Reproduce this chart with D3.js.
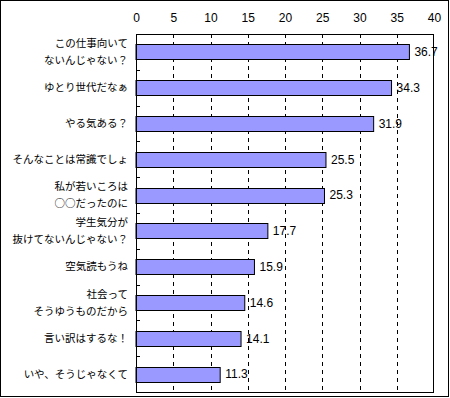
<!DOCTYPE html>
<html><head><meta charset="utf-8">
<script src="https://cdn.jsdelivr.net/npm/d3@7"></script>
<style>
body{margin:0;background:#fff;}
text{fill:#000;}
.num{font-family:"Liberation Sans",Arial,sans-serif;font-size:12px;}
.cat{font-family:"Noto Sans CJK JP","Noto Sans",sans-serif;font-size:10.5px;}
</style></head>
<body><svg id="c" width="450" height="398"></svg>
<script>
const categories = [
  ["この仕事向いて","ないんじゃない？"],
  ["ゆとり世代だなぁ"],
  ["やる気ある？"],
  ["そんなことは常識でしょ"],
  ["私が若いころは","○○だったのに"],
  ["学生気分が","抜けてないんじゃない？"],
  ["空気読もうね"],
  ["社会って","そうゆうものだから"],
  ["言い訳はするな！"],
  ["いや、そうじゃなくて"]
];
const values = [36.7, 34.3, 31.9, 25.5, 25.3, 17.7, 15.9, 14.6, 14.1, 11.3];
const tickValues = [0,5,10,15,20,25,30,35,40];

const svg = d3.select("#c");
const L=136, R=434, T=34, B=392;
svg.append("rect").attr("x",0.5).attr("y",0.5).attr("width",448).attr("height",396)
  .attr("fill","#fff").attr("stroke","#000");

const x = d3.scaleLinear().domain([0,40]).range([L,R]);
const y = d3.scaleBand().domain(d3.range(values.length)).range([T,B]).paddingInner(0.58).paddingOuter(0.29);
const band = d3.scaleBand().domain(d3.range(values.length)).range([T,B]);

// gridlines
svg.append("g").selectAll("line").data(tickValues.filter(v=>v>0&&v<40)).join("line")
  .attr("x1",d=>Math.round(x(d))+0.5).attr("x2",d=>Math.round(x(d))+0.5)
  .attr("y1",T).attr("y2",B).attr("stroke","#000").attr("stroke-dasharray","4,4");

// top axis labels
const ax = d3.axisTop(x).tickValues(tickValues).tickSize(0).tickPadding(0);
const g = svg.append("g").attr("transform",`translate(0,22)`).call(ax);
g.select(".domain").remove();
g.attr("font-size",null).attr("font-family",null);
g.selectAll("text").attr("class","num").attr("fill","#000");

// bars
svg.append("g").selectAll("rect").data(values).join("rect")
  .attr("x",x(0)).attr("y",(d,i)=>Math.round(y(i))+0.5)
  .attr("width",d=>x(d)-x(0)).attr("height",Math.round(y.bandwidth()))
  .attr("fill","#9999ff").attr("stroke","#000");

// value labels
svg.append("g").selectAll("text").data(values).join("text").attr("class","num")
  .attr("x",d=>x(d)+5).attr("y",(d,i)=>band(i)+band.bandwidth()/2)
  .attr("dy","0.35em").text(d=>d.toFixed(1));

// left ticks
svg.append("g").selectAll("line").data(d3.range(1,values.length)).join("line")
  .attr("x1",L).attr("x2",L+4).attr("y1",i=>Math.round(band(i))+0.5).attr("y2",i=>Math.round(band(i))+0.5)
  .attr("stroke","#000");

// frame
svg.append("rect").attr("x",L+0.5).attr("y",T+0.5).attr("width",R-L-1).attr("height",B-T)
  .attr("fill","none").attr("stroke","#000");

// category labels
const cg = svg.append("g");
categories.forEach((lines,i)=>{
  const cy = band(i)+band.bandwidth()/2;
  const t = cg.append("text").attr("class","cat").attr("text-anchor","end").attr("x",128);
  lines.forEach((s,k)=>{
    const off = (k-(lines.length-1)/2)*17;
    t.append("tspan").attr("x",128).attr("y",cy+off).attr("dy","0.35em").text(s);
  });
});
</script></body></html>
